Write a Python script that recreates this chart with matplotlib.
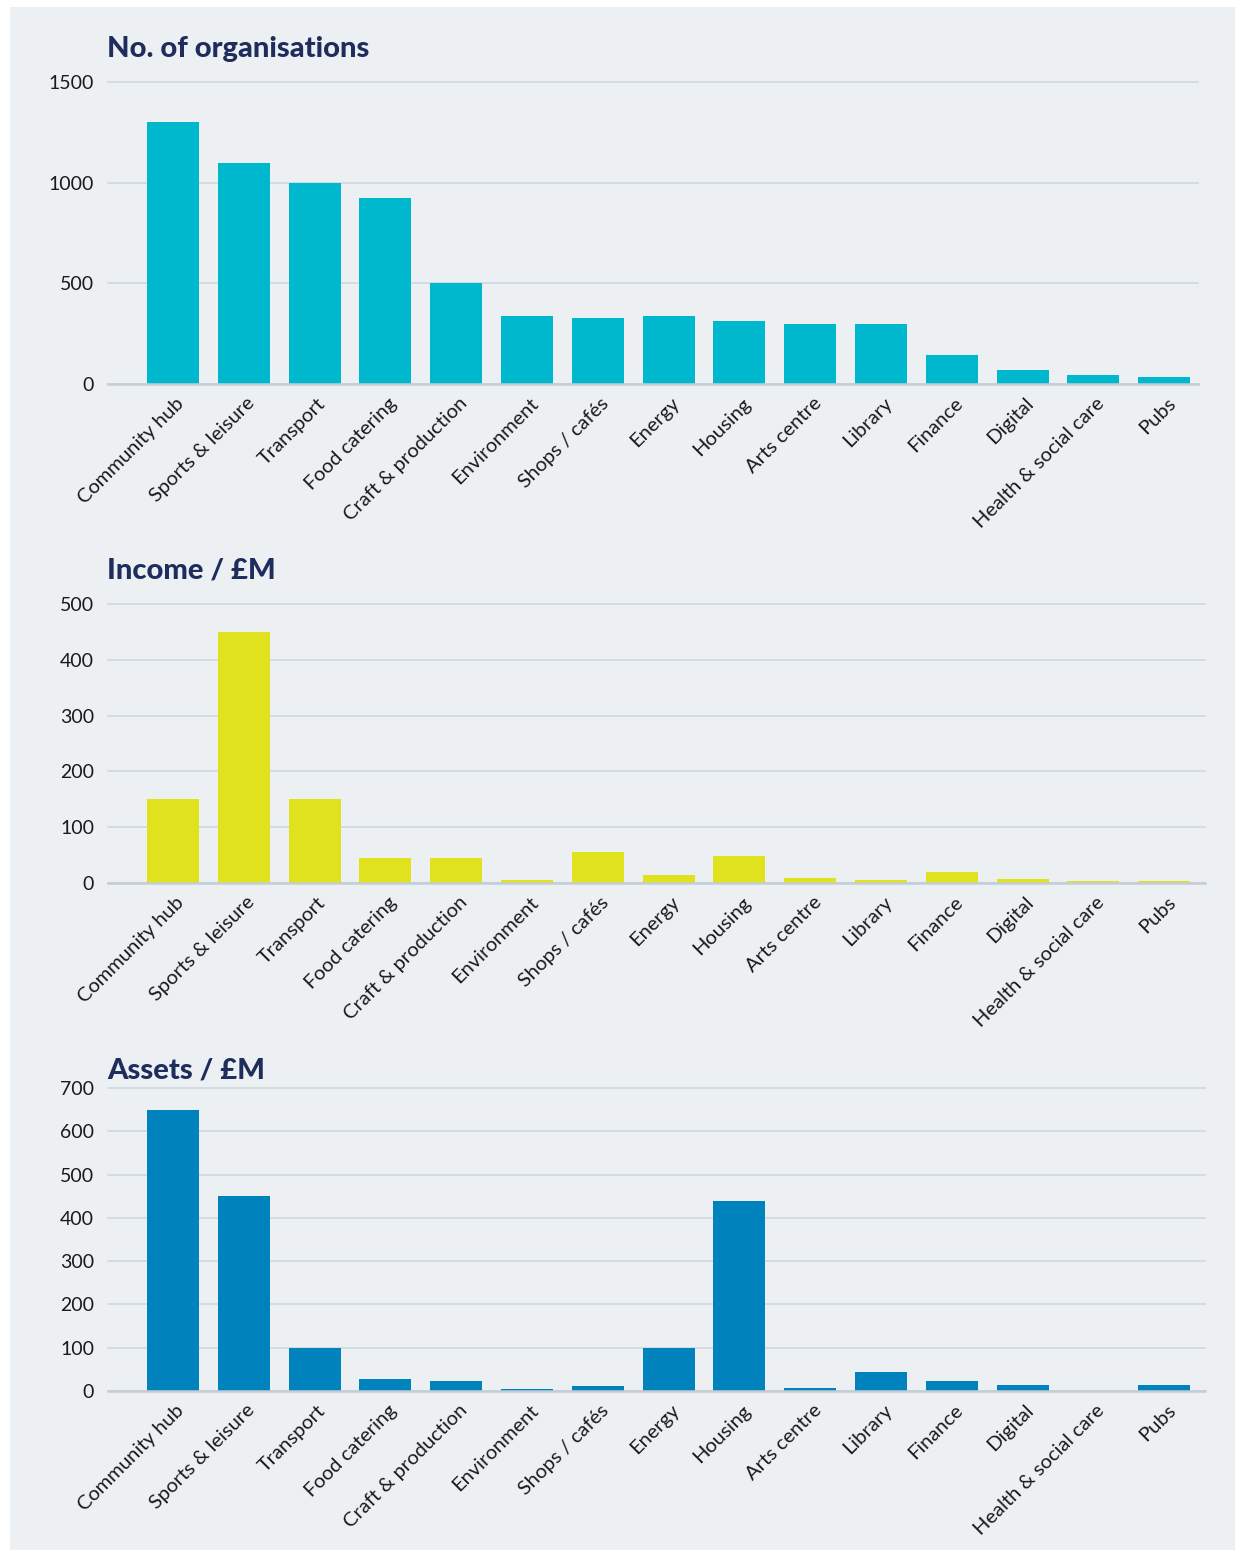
import matplotlib
matplotlib.use("Agg")
import matplotlib.pyplot as plt
from matplotlib.patches import Rectangle

# data
categories = ["Community hub", "Sports & leisure", "Transport", "Food catering",
              "Craft & production", "Environment", "Shops / cafés", "Energy",
              "Housing", "Arts centre", "Library", "Finance", "Digital",
              "Health & social care", "Pubs"]
organisations = [1300, 1100, 1000, 925, 500, 340, 330, 340, 315, 300, 300, 145, 70, 45, 35]
income = [150, 450, 150, 45, 45, 6, 55, 14, 48, 9, 6, 20, 8, 4, 4]
assets = [650, 450, 100, 28, 23, 4, 11, 100, 440, 8, 45, 22, 15, 0, 15]

org_ticks = [0, 500, 1000, 1500]
income_ticks = [0, 100, 200, 300, 400, 500]
assets_ticks = [0, 100, 200, 300, 400, 500, 600, 700]

# styling
bg = "#ECF0F3"
grid_col = "#C9D6DF"
title_col = "#1F2D5C"
W, H = 1242, 1553

plt.rcParams["font.family"] = ["Lato", "DejaVu Sans"]

fig = plt.figure(figsize=(W / 100, H / 100), dpi=100, facecolor="white")
fig.patches.append(Rectangle((10 / W, 1 - 1550 / H), 1225 / W, 1543 / H,
                             transform=fig.transFigure, facecolor=bg,
                             edgecolor="none", zorder=-10))


def panel(top_px, bottom_px, right_px, values, ticks, color, title, title_y):
    left_px = 108
    ax = fig.add_axes([left_px / W, 1 - bottom_px / H,
                       (right_px - left_px) / W, (bottom_px - top_px) / H])
    ax.set_facecolor("none")
    x = list(range(len(categories)))
    ax.bar(x, values, width=0.735, color=color, zorder=3)
    ax.set_ylim(0, ticks[-1])
    step = 70.8
    ax.set_xlim(-65 / step, -65 / step + (right_px - left_px) / step)
    ax.set_yticks(ticks)
    for t in ticks:
        ax.axhline(t, color=grid_col, lw=1.1, zorder=1, clip_on=False)
    ax.axhline(0, color="#C3CDD6", lw=1.8, zorder=4, clip_on=False)
    # labels sit a bit right of the bar centres in the reference
    ax.set_xticks([i + 0.12 for i in x])
    ax.set_xticklabels(categories, rotation=45, ha="right", va="center",
                       rotation_mode="anchor", fontsize=14.5, color="#1a1a1a")
    ax.tick_params(axis="x", length=0, pad=12)
    ax.tick_params(axis="y", length=0, pad=10, labelsize=14, labelcolor="#1a1a1a")
    for s in ax.spines.values():
        s.set_visible(False)
    fig.text(107 / W, 1 - title_y / H, title, fontsize=21, fontweight="black",
             color=title_col, va="center", ha="left")
    return ax


panel(82, 384, 1198, organisations, org_ticks, "#00B8CE", "No. of organisations", 49)
panel(604, 883, 1205, income, income_ticks, "#E0E21E", "Income / £M", 571)
panel(1088, 1391, 1205, assets, assets_ticks, "#0082BC", "Assets / £M", 1070)

fig.savefig("out.png", dpi=100, facecolor="white")
